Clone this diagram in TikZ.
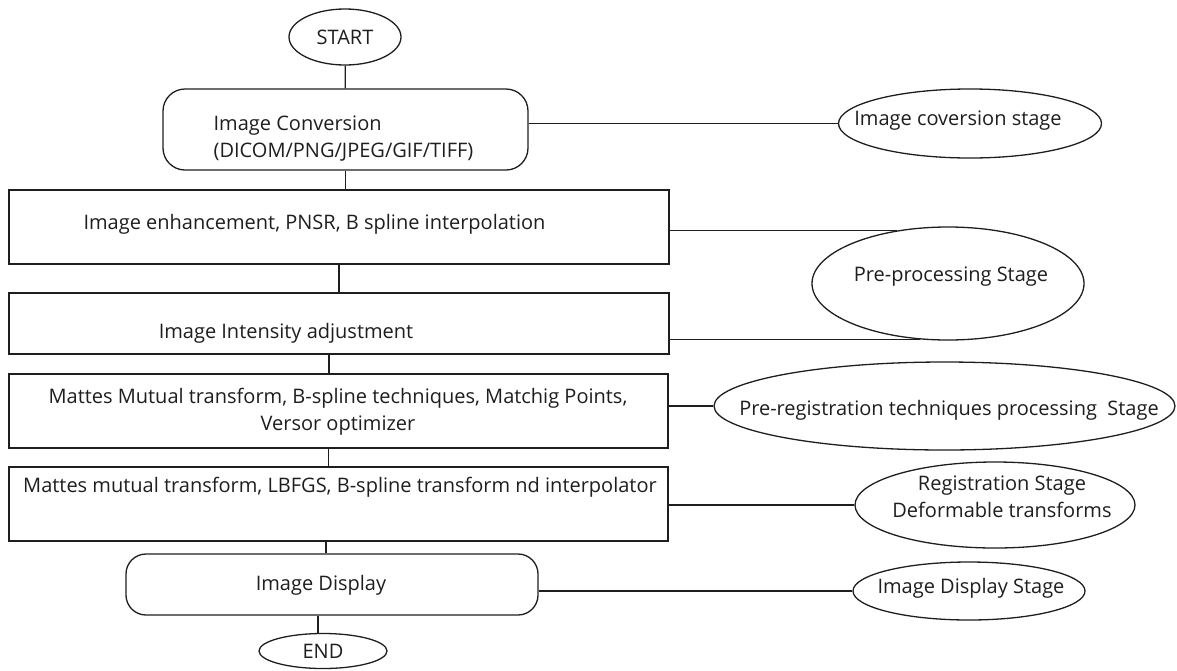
\documentclass[tikz,border=0pt]{standalone}
\usepackage{fontspec}
\setmainfont{Open Sans}
\usetikzlibrary{shapes.geometric}
\definecolor{ink}{HTML}{1E1E1E}

\tikzset{
  stage/.style={draw=ink,ellipse,inner sep=0pt},
  procbox/.style={draw=ink,rectangle,inner sep=0pt},
  roundbox/.style={draw=ink,rectangle,rounded corners=22pt,inner sep=0pt},
  txt/.style={inner sep=0pt,align=center,text=ink}
}

\begin{document}
\begin{tikzpicture}[x=1pt,y=-1pt,line width=1.3pt,font=\fontsize{20}{27}\selectfont]
  \useasboundingbox (0,0) rectangle (1177,670);
  % main column
  \node[stage,minimum width=112pt,minimum height=56pt,text=ink] (start) at (345,37) {START};
  \node[roundbox,minimum width=365pt,minimum height=81pt] (conv) at (345.5,129.5) {};
  \node[procbox,minimum width=660pt,minimum height=74pt] (enh) at (339,227) {};
  \node[procbox,minimum width=660pt,minimum height=61pt] (int) at (339,323.5) {};
  \node[procbox,minimum width=659pt,minimum height=74pt] (mattes) at (338.5,411) {};
  \node[procbox,minimum width=659pt,minimum height=74pt] (mm) at (338.5,504) {};
  \node[roundbox,rounded corners=20pt,minimum width=412pt,minimum height=61pt] (disp) at (332,584.5) {};
  \node[stage,minimum width=128pt,minimum height=35pt,text=ink] (end) at (323,651) {END};
  % texts of the boxes
  \node[txt,align=left,anchor=west] (convtxt) at (213,138.5) {Image Conversion\\(DICOM/PNG/JPEG/GIF/TIFF)};
  \node[txt] (enhtxt) at (314.5,224) {Image enhancement, PNSR, B spline interpolation};
  \node[txt] (inttxt) at (286,333) {Image Intensity adjustment};
  \node[txt] (mattestxt) at (338,411.5) {Mattes Mutual transform, B-spline techniques, Matchig Points,\\Versor optimizer};
  \node[txt] (mmtxt) at (340,487) {Mattes mutual transform, LBFGS, B-spline transform nd interpolator};
  \node[txt] (disptxt) at (321,585) {Image Display};
  % stages
  \node[stage,minimum width=263pt,minimum height=69pt] (convst) at (970,123.5) {};
  \node[stage,minimum width=272pt,minimum height=113pt] (pre) at (948,283.5) {};
  \node[stage,minimum width=461pt,minimum height=88pt] (prereg) at (944.5,406) {};
  \node[stage,minimum width=280pt,minimum height=86pt] (reg) at (995,505) {};
  \node[stage,minimum width=232pt,minimum height=58pt] (dispst) at (969,591) {};
  \node[txt] (convsttxt) at (958,121) {Image coversion stage};
  \node[txt] (pretxt) at (951,277) {Pre-processing Stage};
  \node[txt] (preregtxt) at (949,410) {Pre-registration techniques processing\ \ Stage};
  \node[txt] (regtxt) at (1002,497) {Registration Stage\\Deformable transforms};
  \node[txt] (dispsttxt) at (971,588) {Image Display Stage};
  % flow
  \draw[ink] (start) -- (conv);
  \draw[ink] (conv.south) -- (conv.south |- enh.north);
  \draw[ink] (enh.south) -- (enh.south |- int.north);
  \draw[ink] ([xshift=-10pt]int.south) -- ([xshift=-10pt]int.south |- mattes.north);
  \draw[ink] ([xshift=-10pt]mattes.south) -- ([xshift=-10pt]mattes.south |- mm.north);
  \draw[ink] ([xshift=-6pt]disp.north |- mm.south) -- ([xshift=-6pt]disp.north);
  \draw[ink] ([xshift=-5pt]disp.south -| end.north) -- ([xshift=-5pt]end.north);
  % links to the stages
  \draw[ink] (conv.east |- convst.west) -- (convst.west);
  \draw[ink] (enh.east |- pre.134) -- (pre.134);
  \draw[ink] (int.east |- pre.243) -- (pre.243);
  \draw[ink] (mattes.east |- prereg.west) -- (prereg.west);
  \draw[ink] (mm.east |- reg.west) -- (reg.west);
  \draw[ink] (disp.east |- dispst.west) -- (dispst.west);
\end{tikzpicture}
\end{document}
